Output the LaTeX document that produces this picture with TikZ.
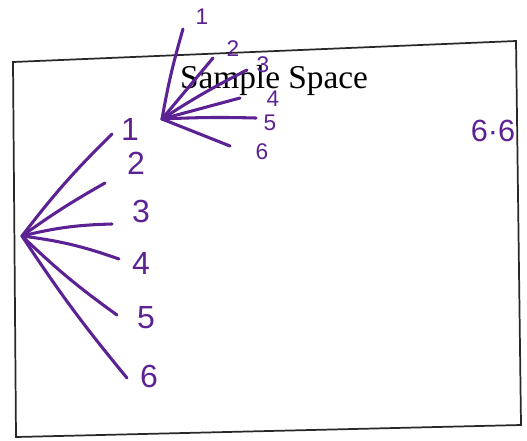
\documentclass[tikz,border=0pt]{standalone}
\usepackage{fontspec}
\setmainfont{Liberation Serif}
\newfontfamily\handfont{Liberation Sans}
\definecolor{pen}{RGB}{92,34,148}
\definecolor{frame}{RGB}{40,40,40}
\begin{document}
\begin{tikzpicture}[x=0.75pt,y=-0.75pt,
  branch/.style={draw=pen,line width=2.3pt,line cap=round},
  bigdigit/.style={text=pen,font=\handfont\fontsize{24}{24}\selectfont,inner sep=0pt},
  smalldigit/.style={text=pen,font=\handfont\fontsize{17}{17}\selectfont,inner sep=0pt}]
\useasboundingbox (0,0) rectangle (527,440);
% sample space frame
\draw[frame,line width=1.3pt,line join=miter] (13,62) -- (516,41) -- (521,425) -- (16,437) -- cycle;
\node[font=\fontsize{25}{25}\selectfont,inner sep=0pt] (title) at (274,80) {Sample Space};
% big tree
\coordinate (r1) at (22,236);
\coordinate (a1) at (112,134);
\coordinate (a2) at (105,183);
\coordinate (a3) at (112,224);
\coordinate (a4) at (119,259);
\coordinate (a5) at (117,315);
\coordinate (a6) at (127,378);
\draw[branch] (r1) to[bend left=4] (a1);
\draw[branch] (r1) to[bend left=3] (a2);
\draw[branch] (r1) to[bend left=6] (a3);
\draw[branch] (r1) to[bend left=6] (a4);
\draw[branch] (r1) to[bend right=4] (a5);
\draw[branch] (r1) to[bend right=3] (a6);
\node[bigdigit] (b1) at (130,129) {1};
\node[bigdigit] (b2) at (136,163) {2};
\node[bigdigit] (b3) at (141,211) {3};
\node[bigdigit] (b4) at (141,263) {4};
\node[bigdigit] (b5) at (146,318) {5};
\node[bigdigit] (b6) at (149,376) {6};
% small tree
\coordinate (r2) at (162,119);
\coordinate (c1) at (183,29);
\coordinate (c2) at (213,58);
\coordinate (c3) at (247,70);
\coordinate (c4) at (240,98);
\coordinate (c5) at (256,118);
\coordinate (c6) at (230,146);
\draw[branch] (r2) to[bend left=3] (c1);
\draw[branch] (r2) -- (c2);
\draw[branch] (r2) to[bend left=3] (c3);
\draw[branch] (r2) -- (c4);
\draw[branch] (r2) to[bend left=2] (c5);
\draw[branch] (r2) -- (c6);
\node[smalldigit] (d1) at (202,17) {1};
\node[smalldigit] (d2) at (233,49) {2};
\node[smalldigit] (d3) at (263,65) {3};
\node[smalldigit] (d4) at (273,99) {4};
\node[smalldigit] (d5) at (270,123) {5};
\node[smalldigit] (d6) at (262,152) {6};
% label
\node[text=pen,font=\handfont\fontsize{23}{23}\selectfont,inner sep=0pt] (prod) at (493,131) {6·6};
\end{tikzpicture}
\end{document}
